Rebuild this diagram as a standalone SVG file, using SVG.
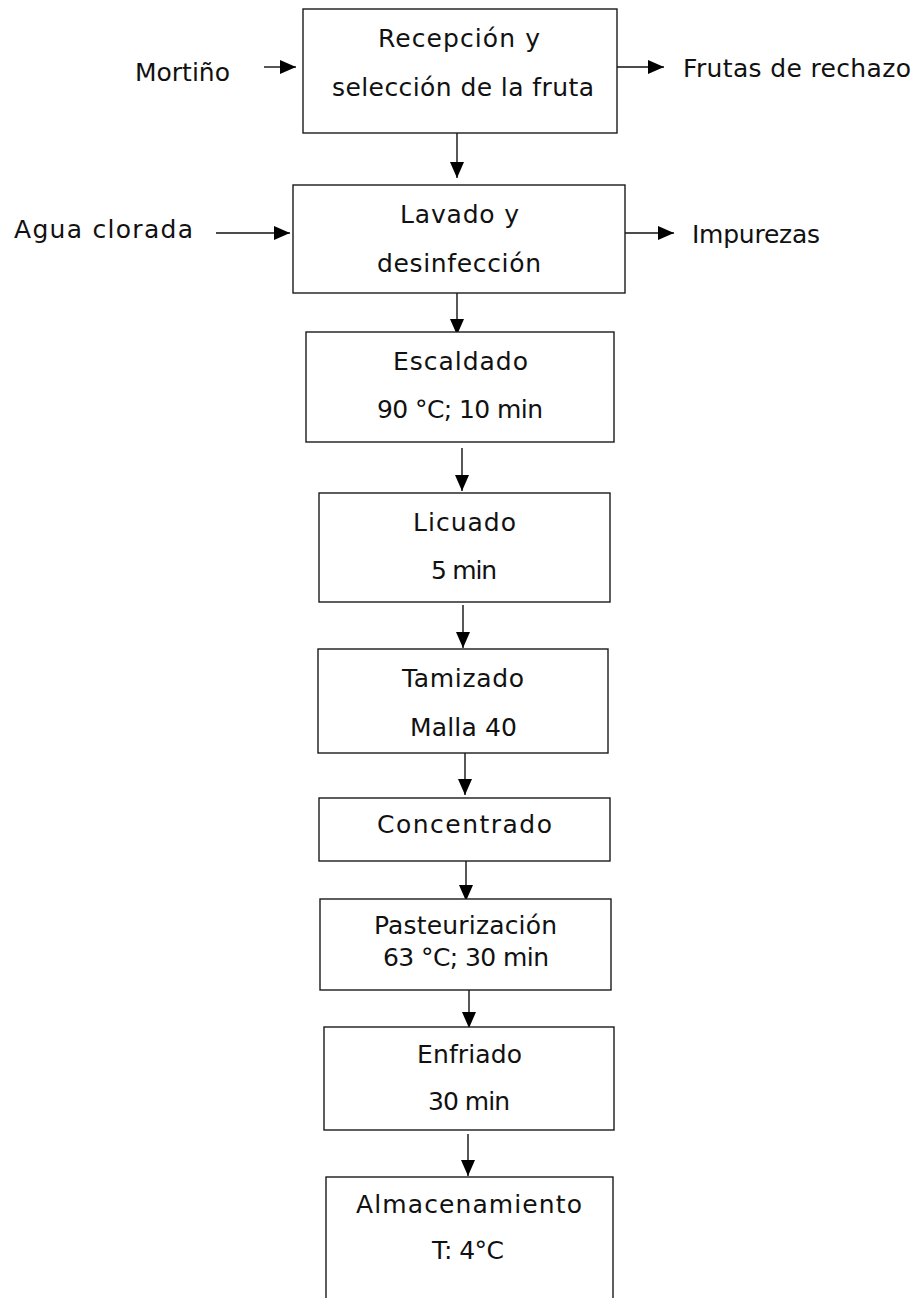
<svg xmlns="http://www.w3.org/2000/svg" width="917" height="1298" viewBox="0 0 917 1298">
<style>
.box{fill:#fff;stroke:#1a1a1a;stroke-width:1.4}
.t{font-family:"DejaVu Sans",sans-serif;font-size:25px;fill:#111}
.c{text-anchor:middle}
.ln{stroke:#111;stroke-width:1.4;fill:none;marker-end:url(#ah)}
</style>
<defs>
<marker id="ah" markerUnits="userSpaceOnUse" markerWidth="16" markerHeight="14" refX="16" refY="7" orient="auto">
<path d="M0,0 L16,7 L0,14 z" fill="#000"/>
</marker>
</defs>
<rect width="917" height="1298" fill="#fff"/>
<g id="connectors">
<line class="ln" x1="264" y1="67" x2="296" y2="67"/>
<line class="ln" x1="617" y1="67" x2="664" y2="67"/>
<line class="ln" x1="457" y1="133" x2="457" y2="178"/>
<line class="ln" x1="216" y1="233" x2="290" y2="233"/>
<line class="ln" x1="625" y1="233" x2="674" y2="233"/>
<line class="ln" x1="457" y1="293" x2="457" y2="335"/>
<line class="ln" x1="462" y1="448" x2="462" y2="491"/>
<line class="ln" x1="463" y1="605" x2="463" y2="648"/>
<line class="ln" x1="465" y1="753" x2="465" y2="795"/>
<line class="ln" x1="466" y1="861" x2="466" y2="901"/>
<line class="ln" x1="469" y1="990" x2="469" y2="1028"/>
<line class="ln" x1="468" y1="1134" x2="468" y2="1176"/>
</g>
<g id="mortino"><text class="t" x="135" y="81" textLength="95" lengthAdjust="spacing">Mortiño</text></g>
<g id="agua"><text class="t" x="14" y="238" textLength="179" lengthAdjust="spacing">Agua clorada</text></g>
<g id="frutas"><text class="t" x="683" y="77" textLength="228" lengthAdjust="spacing">Frutas de rechazo</text></g>
<g id="impurezas"><text class="t" x="692" y="243" textLength="128" lengthAdjust="spacing">Impurezas</text></g>
<g id="recepcion">
<rect class="box" x="303" y="9" width="314" height="124"/>
<text class="t" x="378" y="47" textLength="162" lengthAdjust="spacing">Recepción y</text>
<text class="t" x="332" y="96" textLength="262" lengthAdjust="spacing">selección de la fruta</text>
</g>
<g id="lavado">
<rect class="box" x="293" y="185" width="332" height="108"/>
<text class="t" x="400" y="223" textLength="119" lengthAdjust="spacing">Lavado y</text>
<text class="t" x="377" y="272" textLength="164" lengthAdjust="spacing">desinfección</text>
</g>
<g id="escaldado">
<rect class="box" x="306" y="332" width="308" height="110"/>
<text class="t" x="393" y="370" textLength="135" lengthAdjust="spacing">Escaldado</text>
<text class="t" x="377" y="418" textLength="166" lengthAdjust="spacing">90 °C; 10 min</text>
</g>
<g id="licuado">
<rect class="box" x="319" y="493" width="291" height="109"/>
<text class="t" x="413" y="531" textLength="103" lengthAdjust="spacing">Licuado</text>
<text class="t" x="431" y="579" textLength="66" lengthAdjust="spacing">5 min</text>
</g>
<g id="tamizado">
<rect class="box" x="318" y="649" width="290" height="104"/>
<text class="t" x="402" y="687" textLength="122" lengthAdjust="spacing">Tamizado</text>
<text class="t" x="410" y="736" textLength="107" lengthAdjust="spacing">Malla 40</text>
</g>
<g id="concentrado">
<rect class="box" x="319" y="798" width="291" height="63"/>
<text class="t" x="377" y="833" textLength="175" lengthAdjust="spacing">Concentrado</text>
</g>
<g id="pasteurizacion">
<rect class="box" x="320" y="899" width="291" height="91"/>
<text class="t" x="374" y="934" textLength="183" lengthAdjust="spacing">Pasteurización</text>
<text class="t" x="383" y="966" textLength="166" lengthAdjust="spacing">63 °C; 30 min</text>
</g>
<g id="enfriado">
<rect class="box" x="324" y="1027" width="290" height="103"/>
<text class="t" x="417" y="1063" textLength="105" lengthAdjust="spacing">Enfriado</text>
<text class="t" x="428" y="1110" textLength="82" lengthAdjust="spacing">30 min</text>
</g>
<g id="almacenamiento">
<rect class="box" x="326" y="1177" width="287" height="140"/>
<text class="t" x="356" y="1213" textLength="226" lengthAdjust="spacing">Almacenamiento</text>
<text class="t" x="432" y="1259" textLength="72" lengthAdjust="spacing">T: 4°C</text>
</g>
</svg>
